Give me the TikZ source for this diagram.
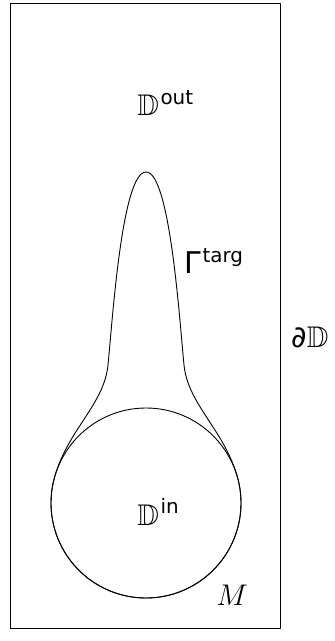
\documentclass[tikz,border=0pt]{standalone}
\usepackage{fix-cm}
\usepackage{amssymb}
\usepackage{fontspec}
\newfontfamily\dv{DejaVu Sans}
\newcommand{\bigsz}{\fontsize{30}{36}\selectfont}
\newcommand{\supsz}{\fontsize{20}{24}\selectfont}
\newcommand{\supr}[2]{\hspace{1.5bp}\raisebox{#1}{\dv\supsz #2}}
\begin{document}
\begin{tikzpicture}[x=1bp,y=-1bp,line width=0.9bp,
  lbl/.style={anchor=base west,inner sep=0pt,font=\bigsz}]
\useasboundingbox (0,0) rectangle (334,641);
% domain boundary
\draw (10.5,3.5) rectangle (280.5,628.5);
% inner disc
\draw (146,503) circle[radius=95];
% target curve
\draw (54.24,478.41) arc[start angle=195,end angle=-15,radius=95]
  .. controls (224.8,430.1) and (188,405) .. (184,365)
  .. controls (179.5,320) and (170,172) .. (146,172)
  .. controls (122,172) and (112.5,320) .. (108,365)
  .. controls (104,405) and (67.2,430.1) .. (54.24,478.41) -- cycle;
% labels
\node[lbl] (dout) at (137,116) {$\mathbb{D}$\supr{11bp}{out}};
\node[lbl] (gtarg) at (184,273) {\dv\bigsz Γ\supr{11bp}{targ}};
\node[lbl] (dbd) at (291,347) {{\dv ∂}$\mathbb{D}$};
\node[lbl] (din) at (137,525) {$\mathbb{D}$\supr{12bp}{in}};
\node[lbl] (m) at (216,605) {$M$};
\end{tikzpicture}
\end{document}
